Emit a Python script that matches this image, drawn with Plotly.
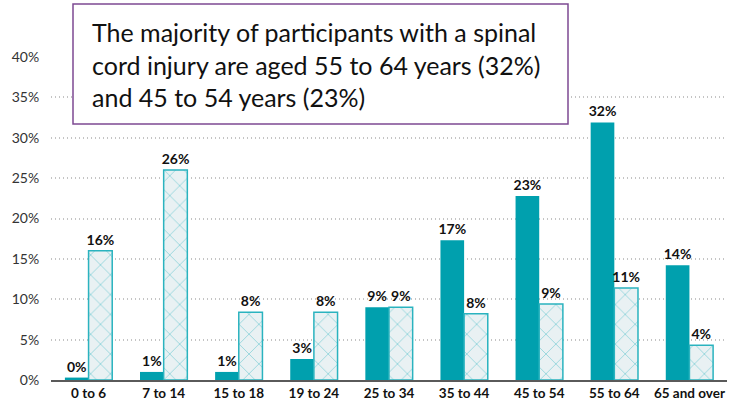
import plotly.graph_objects as go

categories = ["0 to 6", "7 to 14", "15 to 18", "19 to 24", "25 to 34",
              "35 to 44", "45 to 54", "55 to 64", "65 and over"]
spinal_values = [0.3, 1.0, 1.0, 2.6, 9.0, 17.3, 22.8, 31.9, 14.2]
other_values = [16.0, 26.0, 8.4, 8.4, 9.0, 8.2, 9.4, 11.4, 4.3]
y_tick_vals = [0, 5, 10, 15, 20, 25, 30, 35, 40]
y_tick_text = ["0%", "5%", "10%", "15%", "20%", "25%", "30%", "35%", "40%"]
title_text = ("The majority of participants with a spinal<br>"
              "cord injury are aged 55 to 64 years (32%)<br>"
              "and 45 to 54 years (23%)")

TEAL = "#00a0ae"
LIGHT_TEAL = "#2ab3bf"
FONT = "Lato"

# plot area in pixels
L, R, T, B = 51, 727, 57, 380
PW, PH = R - L, B - T


def px_x(p):
    return (p - L) / PW


def px_y(p):
    return (B - p) / PH


fig = go.Figure()
fig.add_trace(go.Bar(
    x=categories, y=spinal_values, name="Spinal cord injury",
    marker=dict(color=TEAL, line=dict(width=0)),
    text=[f"{round(v)}%" for v in spinal_values],
    textposition="outside", cliponaxis=False, constraintext="none",
    textfont=dict(family=FONT, size=14, color="#111", weight="bold"),
))
fig.add_trace(go.Bar(
    x=categories, y=other_values, name="All participants",
    marker=dict(color="#e9f1f3", line=dict(color=LIGHT_TEAL, width=1.5),
                pattern=dict(shape="x", bgcolor="#e9f1f3", fgcolor=LIGHT_TEAL,
                             size=14, solidity=0.11, fillmode="overlay")),
    text=[f"{round(v)}%" for v in other_values],
    textposition="outside", cliponaxis=False, constraintext="none",
    textfont=dict(family=FONT, size=14, color="#111", weight="bold"),
))

fig.update_layout(
    width=737, height=406,
    margin=dict(l=L, r=737 - R, t=T, b=406 - B, autoexpand=False),
    paper_bgcolor="white", plot_bgcolor="white",
    barmode="group", bargap=0.37, bargroupgap=0,
    showlegend=False,
    font=dict(family=FONT, color="#222"),
    xaxis=dict(showgrid=False, showline=True, linecolor="#5a5a5a", linewidth=2,
               ticks="", automargin=False,
               tickfont=dict(family=FONT, size=13.5, color="#111", weight="bold")),
    yaxis=dict(range=[0, 40], tickvals=y_tick_vals, ticktext=y_tick_text,
               showgrid=True, gridcolor="#c4c4c4", griddash="1px,3px", gridwidth=1.5,
               zeroline=False, showline=False, ticks="outside", ticklen=8,
               tickcolor="rgba(0,0,0,0)", automargin=False,
               tickfont=dict(family=FONT, size=14, color="#333")),
    shapes=[dict(
        type="rect", xref="paper", yref="paper", layer="above",
        x0=px_x(73), x1=px_x(568), y0=px_y(124), y1=px_y(4),
        fillcolor="white", line=dict(color="#7d4a92", width=1.5),
    )],
    annotations=[dict(
        text=title_text, xref="paper", yref="paper",
        x=px_x(90), y=px_y(64), xanchor="left", yanchor="middle",
        showarrow=False, align="left",
        font=dict(family=FONT, size=25, color="#111"),
    )],
)

fig.write_html("out.html", config={"displayModeBar": False},
               post_script="document.body.style.margin='0px';")
